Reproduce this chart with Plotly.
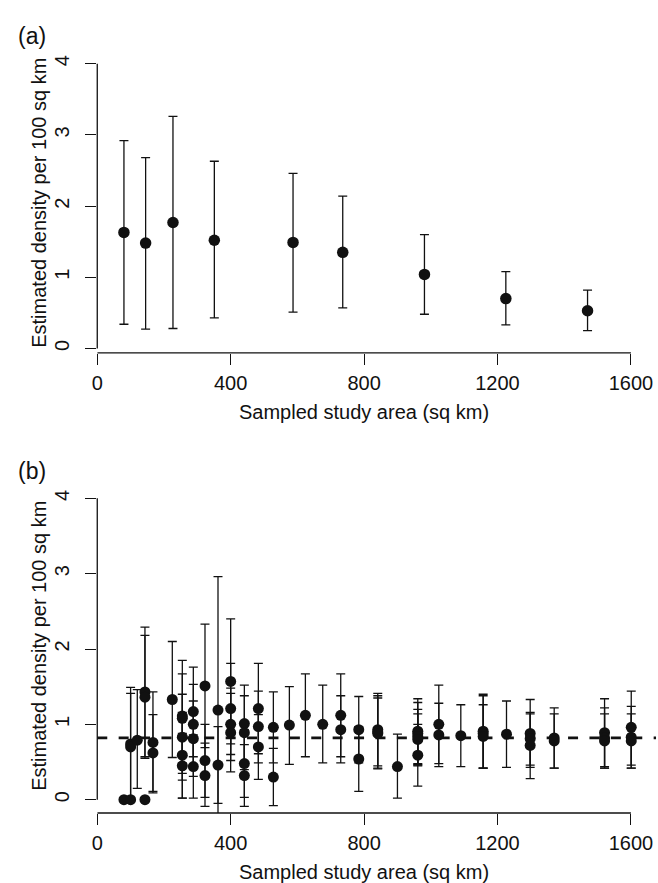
import plotly.graph_objects as go

# ---------------- data ----------------
# Panel (a)
area_a = [80, 145, 227, 351, 587, 736, 981, 1225, 1470]
dens_a = [1.63, 1.48, 1.77, 1.52, 1.49, 1.35, 1.04, 0.70, 0.53]
lo_a = [0.34, 0.27, 0.28, 0.43, 0.51, 0.57, 0.48, 0.33, 0.25]
hi_a = [2.92, 2.68, 3.26, 2.63, 2.46, 2.14, 1.60, 1.08, 0.82]

# Panel (b)
area_b = [80, 100, 143, 100, 100, 120, 143, 143, 167, 167, 225,
          255, 255, 255, 255, 255, 288, 288, 288, 288, 323, 323, 323,
          362, 362, 400, 400, 400, 400, 441, 441, 441, 441, 483, 483, 483,
          528, 528, 576, 624, 676, 730, 730, 784, 784, 841, 841, 841, 900,
          961, 961, 961, 961, 961, 1024, 1024, 1090, 1157, 1157, 1157, 1227,
          1298, 1298, 1298, 1370, 1370, 1521, 1521, 1521, 1601, 1601, 1601]
dens_b = [0.00, 0.00, 0.00, 0.74, 0.70, 0.79, 1.43, 1.36, 0.76, 0.62, 1.33,
          1.11, 1.08, 0.83, 0.59, 0.45, 1.17, 1.00, 0.81, 0.44, 1.51, 0.52, 0.32,
          1.19, 0.46, 1.57, 1.21, 1.00, 0.89, 1.01, 0.89, 0.48, 0.32, 1.21, 0.97, 0.70,
          0.96, 0.30, 0.99, 1.12, 1.00, 1.12, 0.93, 0.93, 0.54, 0.93, 0.90, 0.88, 0.44,
          0.91, 0.88, 0.84, 0.80, 0.59, 1.00, 0.86, 0.85, 0.91, 0.88, 0.84, 0.87,
          0.88, 0.81, 0.72, 0.82, 0.78, 0.89, 0.82, 0.78, 0.96, 0.83, 0.78]
lo_b = [0.00, 0.00, 0.00, -0.01, -0.01, 0.15, 0.57, 0.55, 0.09, 0.11, 0.56,
        0.35, 0.49, 0.26, 0.02, 0.02, 0.57, 0.47, 0.31, 0.02, 0.69, 0.03, -0.09,
        -0.58, -0.05, 0.74, 0.60, 0.52, 0.37, 0.50, 0.40, 0.03, -0.09, 0.61, 0.49, 0.27,
        0.49, -0.08, 0.47, 0.57, 0.49, 0.57, 0.49, 0.49, 0.11, 0.45, 0.42, 0.41, 0.02,
        0.48, 0.47, 0.45, 0.46, 0.18, 0.48, 0.44, 0.44, 0.42, 0.42, 0.42, 0.43,
        0.43, 0.46, 0.28, 0.42, 0.42, 0.44, 0.42, 0.42, 0.46, 0.42, 0.42]
hi_b = [0.00, 0.00, 0.00, 1.49, 1.41, 1.46, 2.29, 2.18, 1.43, 1.13, 2.10,
        1.85, 1.67, 1.40, 1.16, 0.88, 1.76, 1.53, 1.31, 0.86, 2.33, 1.00, 0.75,
        2.96, 0.97, 2.40, 1.81, 1.48, 1.41, 1.52, 1.38, 0.93, 0.73, 1.81, 1.44, 1.13,
        1.43, 0.68, 1.50, 1.67, 1.52, 1.67, 1.38, 1.37, 0.97, 1.41, 1.38, 1.35, 0.87,
        1.34, 1.29, 1.20, 1.14, 1.00, 1.52, 1.28, 1.26, 1.40, 1.38, 1.26, 1.31,
        1.33, 1.16, 1.14, 1.22, 1.14, 1.34, 1.22, 1.14, 1.44, 1.24, 1.14]
mean_b = 0.82

x_ticks = [0, 400, 800, 1200, 1600]
y_ticks = [0, 1, 2, 3, 4]

# ---------------- figure ----------------
W, H = 658, 883
FONT = "Liberation Sans, Arial, Helvetica, sans-serif"
INK = "#111111"

fig = go.Figure()


def add_panel(xs, ys, lo, hi, xa, ya, msize):
    fig.add_trace(go.Scatter(
        x=xs, y=ys, mode="markers", xaxis=xa, yaxis=ya,
        marker=dict(color=INK, size=msize, line=dict(width=0)),
        error_y=dict(type="data", symmetric=False,
                     array=[h - y for h, y in zip(hi, ys)],
                     arrayminus=[y - l for y, l in zip(ys, lo)],
                     color=INK, thickness=1.3, width=4.5),
        showlegend=False, cliponaxis=True,
    ))


add_panel(area_a, dens_a, lo_a, hi_a, "x", "y", 11.5)
add_panel(area_b, dens_b, lo_b, hi_b, "x2", "y2", 11)

x_left, x_right = 92.1, 656.0
px_per = 0.3366
x_max = (x_right - x_left) / px_per
xdom = [x_left / W, x_right / W]

axis_common = dict(showgrid=False, zeroline=False, showline=False,
                   ticks="outside", ticklen=11, tickwidth=1.2, tickcolor=INK,
                   tickfont=dict(family=FONT, size=20, color=INK))

fig.update_layout(
    width=W, height=H, margin=dict(l=0, r=0, t=0, b=0),
    paper_bgcolor="white", plot_bgcolor="white",
    xaxis=dict(domain=xdom, range=[0, x_max], tickvals=x_ticks, anchor="y",
               ticklabelstandoff=1, **axis_common),
    yaxis=dict(domain=[1 - 350.5 / H, 1 - 55.7 / H], range=[-0.063, 4.06],
               tickvals=y_ticks, tickangle=-90, anchor="x",
               ticklabelstandoff=8, **axis_common),
    xaxis2=dict(domain=xdom, range=[0, x_max], tickvals=x_ticks, anchor="y2",
                ticklabelstandoff=1, **axis_common),
    yaxis2=dict(domain=[1 - 812.7 / H, 1 - 484.5 / H], range=[-0.177, 4.16],
                tickvals=y_ticks, tickangle=-90, anchor="x2",
                ticklabelstandoff=8, **axis_common),
)

# axis lines spanning tick range only (base-R style)
for xa, ya in [("x", "y"), ("x2", "y2")]:
    fig.add_shape(type="line", xref=xa, yref=f"{ya} domain", x0=0, x1=1600, y0=0, y1=0,
                  line=dict(color=INK, width=1.3))
    fig.add_shape(type="line", xref=f"{xa} domain", yref=ya, x0=0, x1=0, y0=0, y1=4,
                  line=dict(color=INK, width=1.3))

# mean line in panel (b)
fig.add_shape(type="line", xref="x2 domain", yref="y2", x0=0, x1=1, y0=mean_b, y1=mean_b,
              line=dict(color=INK, width=2.6, dash="10px,11.4px"), layer="below")

xt_center = (x_left + 800 * px_per) / W
ann = [
    dict(text="(a)", x=10 / W, y=1 - 31.7 / H, xanchor="left", yanchor="middle", font=dict(size=23)),
    dict(text="(b)", x=10 / W, y=1 - 469 / H, xanchor="left", yanchor="middle", font=dict(size=23)),
    dict(text="Estimated density per 100 sq km", x=33 / W, y=1 - 200 / H, textangle=-90,
         xanchor="center", yanchor="middle", font=dict(size=20)),
    dict(text="Estimated density per 100 sq km", x=33 / W, y=1 - 645 / H, textangle=-90,
         xanchor="center", yanchor="middle", font=dict(size=20)),
    dict(text="Sampled study area (sq km)", x=xt_center, y=1 - 410 / H,
         xanchor="center", yanchor="middle", font=dict(size=20)),
    dict(text="Sampled study area (sq km)", x=xt_center, y=1 - 872 / H,
         xanchor="center", yanchor="middle", font=dict(size=20)),
]
for a in ann:
    a.update(xref="paper", yref="paper", showarrow=False)
    a["font"].update(family=FONT, color=INK)
    fig.add_annotation(**a)

fig.write_html("out.html", config={"displayModeBar": False},
               post_script="document.body.style.margin='0px';document.body.style.overflow='hidden';")
